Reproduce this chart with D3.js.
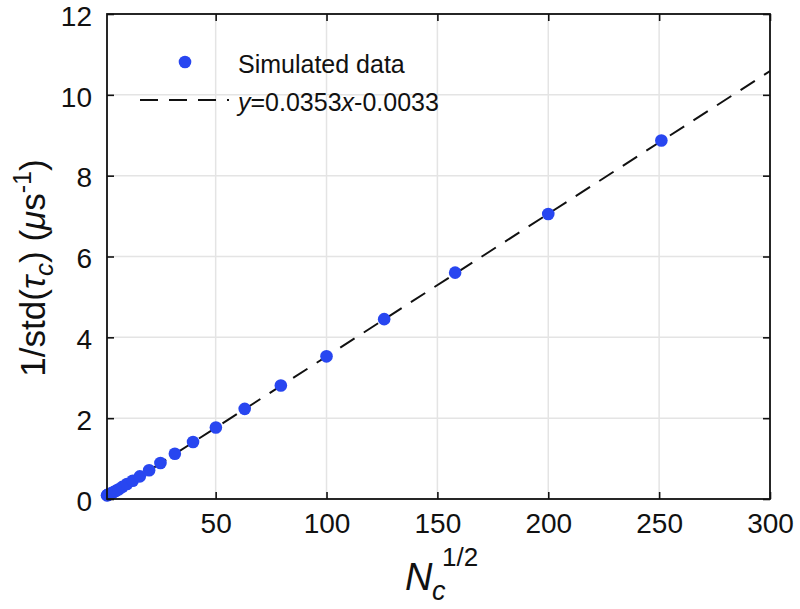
<!DOCTYPE html>
<html><head><meta charset="utf-8">
<script src="https://cdn.jsdelivr.net/npm/d3@7"></script>
<style>body{margin:0;background:#fff}svg{display:block}text{font-family:"Liberation Sans",Arial,Helvetica,sans-serif}</style>
</head><body>
<script>
// Data
const xValues = [1.0, 1.26, 1.58, 2.0, 2.51, 3.16, 3.98, 5.01, 6.31, 7.94, 10.0, 12.6, 15.8, 20.0, 25.1, 31.6, 39.8, 50.1, 63.1, 79.4, 100, 126, 158, 200, 251];
const yValues = [0.09, 0.10, 0.11, 0.12, 0.13, 0.15, 0.17, 0.20, 0.24, 0.30, 0.37, 0.45, 0.56, 0.71, 0.89, 1.12, 1.41, 1.77, 2.23, 2.81, 3.53, 4.45, 5.60, 7.05, 8.87];
const fitSlope = 0.0353, fitIntercept = -0.0033;
const xTicks = [50, 100, 150, 200, 250, 300];
const yTicks = [0, 2, 4, 6, 8, 10, 12];
const legendLabels = ["Simulated data", "y=0.0353x-0.0033"];

const W = 800, H = 609;
const L = 107, R = 770, T = 14, B = 499;
const svg = d3.select("body").append("svg").attr("width", W).attr("height", H);
const x = d3.scaleLinear().domain([1, 300]).range([L, R]);
const y = d3.scaleLinear().domain([0, 12]).range([B, T]);

// grid
svg.append("g").selectAll("line").data(xTicks).join("line")
  .attr("x1", d => x(d)).attr("x2", d => x(d)).attr("y1", T).attr("y2", B)
  .attr("stroke", "#e4e4e4").attr("stroke-width", 1.5);
svg.append("g").selectAll("line").data(yTicks).join("line")
  .attr("y1", d => y(d)).attr("y2", d => y(d)).attr("x1", L).attr("x2", R)
  .attr("stroke", "#e4e4e4").attr("stroke-width", 1.5);

// fit line
const fitX = [0, 300];
svg.append("clipPath").attr("id", "clip").append("rect").attr("x", L).attr("y", T).attr("width", R - L).attr("height", B - T);
svg.append("path").attr("clip-path", "url(#clip)")
  .attr("d", d3.line().x(d => x(d)).y(d => y(fitSlope * d + fitIntercept))(fitX))
  .attr("fill", "none").attr("stroke", "#111").attr("stroke-width", 2).attr("stroke-dasharray", "17,11");

// points
const pts = xValues.map((v, i) => [v, yValues[i]]);
svg.append("g").selectAll("circle").data(pts).join("circle")
  .attr("cx", d => x(d[0])).attr("cy", d => y(d[1])).attr("r", 6.3).attr("fill", "#2846f0");

// axes
const tk = 7;
const axB = svg.append("g").attr("transform", `translate(0,${B})`).call(d3.axisBottom(x).tickValues(xTicks).tickSizeInner(-tk).tickSizeOuter(0).tickPadding(14));
const axT = svg.append("g").attr("transform", `translate(0,${T})`).call(d3.axisTop(x).tickValues(xTicks).tickSizeInner(-tk).tickSizeOuter(0).tickFormat(""));
const axL = svg.append("g").attr("transform", `translate(${L},0)`).call(d3.axisLeft(y).tickValues(yTicks).tickSizeInner(-tk).tickSizeOuter(0).tickPadding(15));
const axR = svg.append("g").attr("transform", `translate(${R},0)`).call(d3.axisRight(y).tickValues(yTicks).tickSizeInner(-tk).tickSizeOuter(0).tickFormat(""));
[axB, axT, axL, axR].forEach(a => {
  a.select(".domain").remove();
  a.selectAll("line").attr("stroke", "#111").attr("stroke-width", 1.6);
  a.selectAll("text").attr("font-size", 28).attr("fill", "#111").attr("font-family", '"Liberation Sans",Arial,sans-serif');
});
axB.selectAll("text").attr("dy", "0.71em");
axL.selectAll("text").attr("dy", "0.4em");
svg.append("rect").attr("x", L).attr("y", T).attr("width", R - L).attr("height", B - T)
  .attr("fill", "none").attr("stroke", "#111").attr("stroke-width", 1.8);

// legend
svg.append("circle").attr("cx", 185).attr("cy", 62).attr("r", 6.3).attr("fill", "#2846f0");
svg.append("line").attr("x1", 140).attr("x2", 229).attr("y1", 100).attr("y2", 100)
  .attr("stroke", "#111").attr("stroke-width", 2).attr("stroke-dasharray", "18,11");
svg.append("text").attr("x", 238).attr("y", 73).attr("font-size", 25).attr("fill", "#111").text(legendLabels[0]);
const lt = svg.append("text").attr("x", 238).attr("y", 111).attr("font-size", 25).attr("fill", "#111");
lt.append("tspan").attr("font-style", "italic").text("y");
lt.append("tspan").text("=0.0353");
lt.append("tspan").attr("font-style", "italic").text("x");
lt.append("tspan").text("-0.0033");

// x label
const xl = svg.append("g").attr("fill", "#111");
xl.append("text").attr("x", 405).attr("y", 590).attr("font-size", 38).attr("font-style", "italic").text("N");
xl.append("text").attr("x", 432).attr("y", 600).attr("font-size", 27).attr("font-style", "italic").text("c");
xl.append("text").attr("x", 442).attr("y", 566).attr("font-size", 26).text("1/2");

// y label
const yl = svg.append("text").attr("transform", `translate(45,268) rotate(-90)`)
  .attr("text-anchor", "middle").attr("fill", "#111").attr("font-size", 35);
yl.append("tspan").text("1/std(");
yl.append("tspan").attr("font-style", "italic").text("τ");
yl.append("tspan").attr("font-size", 26).attr("font-style", "italic").attr("dy", 8).text("c");
yl.append("tspan").attr("dy", -8).text(") (");
yl.append("tspan").attr("font-style", "italic").text("μ");
yl.append("tspan").text("s");
yl.append("tspan").attr("font-size", 25).attr("dy", -14).text("-1");
yl.append("tspan").attr("dy", 14).text(")");
</script>
</body></html>
